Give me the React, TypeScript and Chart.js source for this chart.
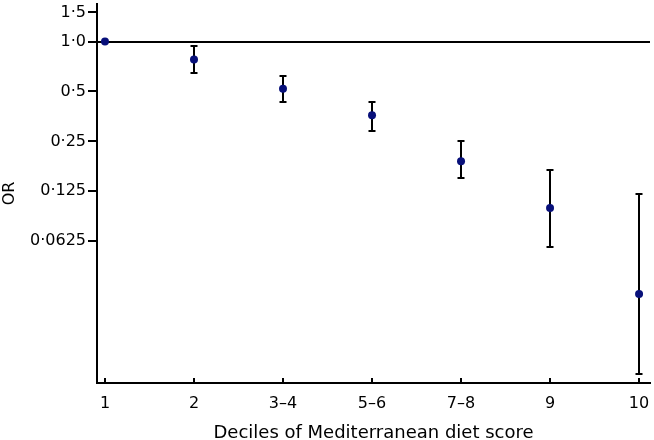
import React, { useEffect, useRef } from "react";
import { Chart, registerables } from "chart.js";

Chart.register(...registerables);

const categories = ["1", "2", "3–4", "5–6", "7–8", "9", "10"];
const oddsRatios = [1.0, 0.78, 0.52, 0.36, 0.19, 0.099, 0.03];
const lowerCI = [1.0, 0.65, 0.43, 0.29, 0.15, 0.058, 0.0099];
const upperCI = [1.0, 0.94, 0.62, 0.43, 0.25, 0.168, 0.121];
const yTickValues = [0.0625, 0.125, 0.25, 0.5, 1.0, 1.5];
const yTickLabels = ["0·0625", "0·125", "0·25", "0·5", "1·0", "1·5"];

const FONT = "DejaVu Sans";

const overlayPlugin = {
  id: "overlay",
  beforeDatasetsDraw(chart: any) {
    const { ctx, chartArea, scales } = chart;
    const x = scales.x;
    const y = scales.y;
    ctx.save();
    ctx.strokeStyle = "#000";
    ctx.lineWidth = 2;
    const y1 = Math.round(y.getPixelForValue(1));
    ctx.beginPath();
    ctx.moveTo(chartArea.left, y1);
    ctx.lineTo(chartArea.right, y1);
    ctx.stroke();
    categories.forEach((_, i) => {
      const px = Math.round(x.getPixelForValue(i + 1));
      ctx.beginPath();
      ctx.moveTo(px, chartArea.bottom);
      ctx.lineTo(px, chartArea.bottom - 5);
      ctx.stroke();
    });
    categories.forEach((_, i) => {
      if (lowerCI[i] === upperCI[i]) return;
      const px = Math.round(x.getPixelForValue(i + 1));
      const yl = Math.round(y.getPixelForValue(lowerCI[i]));
      const yu = Math.round(y.getPixelForValue(upperCI[i]));
      ctx.beginPath();
      ctx.moveTo(px, yl);
      ctx.lineTo(px, yu);
      ctx.moveTo(px - 3.5, yl);
      ctx.lineTo(px + 3.5, yl);
      ctx.moveTo(px - 3.5, yu);
      ctx.lineTo(px + 3.5, yu);
      ctx.stroke();
    });
    ctx.restore();
  },
};

export default function App() {
  const ref = useRef<HTMLCanvasElement>(null);
  useEffect(() => {
    if (!ref.current) return;
    Chart.defaults.font.family = FONT;
    Chart.defaults.color = "#000";
    const chart = new Chart(ref.current, {
      type: "scatter",
      data: {
        datasets: [
          {
            data: oddsRatios.map((v, i) => ({ x: i + 1, y: v })),
            backgroundColor: "#08107a",
            borderWidth: 0,
            pointRadius: 4,
            pointStyle: "circle",
          },
        ],
      },
      options: {
        responsive: false,
        animation: false,
        devicePixelRatio: 1,
        layout: { padding: 0 },
        plugins: { legend: { display: false }, tooltip: { enabled: false } },
        scales: {
          x: {
            type: "linear",
            bounds: "data",
            min: 0.9104,
            max: 7.123,
            grid: { display: false },
            border: { display: true, color: "#000", width: 2 },
            ticks: {
              padding: 3,
              font: { size: 16 },
              color: "#000",
              callback: (v: any) => categories[Number(v) - 1] ?? "",
            },
            afterBuildTicks: (s: any) => {
              s.ticks = categories.map((_, i) => ({ value: i + 1 }));
            },
            afterFit: (s: any) => {
              s.paddingLeft = 0;
              s.paddingRight = 0;
              s.height = 57;
            },
            title: {
              display: true,
              text: "Deciles of Mediterranean diet score",
              font: { size: 18 },
              color: "#000",
              padding: { top: 0, bottom: -4 },
            },
          },
          y: {
            type: "logarithmic",
            bounds: "data",
            min: 0.00871,
            max: 1.686,
            grid: {
              display: true,
              drawOnChartArea: false,
              drawTicks: true,
              tickLength: 9,
              color: "#000",
              lineWidth: 2,
            },
            border: { display: true, color: "#000", width: 2 },
            ticks: {
              padding: 2,
              font: { size: 16 },
              color: "#000",
              autoSkip: false,
              callback: (v: any) => {
                const idx = yTickValues.indexOf(Number(v));
                return idx >= 0 ? yTickLabels[idx] : "";
              },
            },
            afterBuildTicks: (s: any) => {
              s.ticks = yTickValues.map((v) => ({ value: v }));
            },
            afterFit: (s: any) => {
              s.paddingTop = 0;
              s.paddingBottom = 0;
              s.width = 97;
            },
            title: {
              display: true,
              text: "OR",
              font: { size: 16 },
              color: "#000",
              padding: { top: 0, bottom: 0 },
            },
          },
        },
      },
      plugins: [overlayPlugin],
    });
    return () => chart.destroy();
  }, []);
  return (
    <div style={{ position: "absolute", left: 0, top: 0, width: 654, height: 440, background: "#fff" }}>
      <canvas ref={ref} width={654} height={440} />
    </div>
  );
}
